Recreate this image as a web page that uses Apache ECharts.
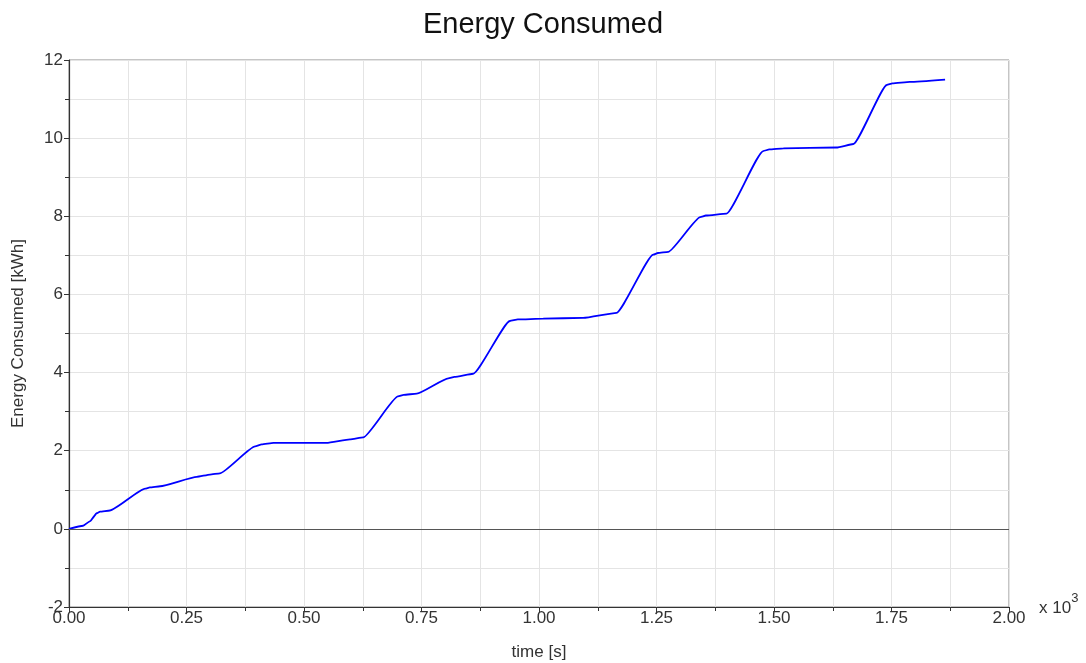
<!DOCTYPE html>
<html><head><meta charset="utf-8">
<script src="https://cdn.jsdelivr.net/npm/echarts@6/dist/echarts.min.js"></script>
<style>html,body{margin:0;padding:0;background:#fff}#c{width:1086px;height:663px}</style>
</head><body><div id="c"></div>
<script>
// time in seconds
const timeS = [0, 30, 45, 59, 66, 87, 162, 172, 194, 272, 300, 321, 396, 410, 435, 548, 598, 626, 700, 712, 740, 807, 820, 860, 938, 955, 1009, 1094, 1165, 1243, 1253, 1275, 1343, 1355, 1399, 1477, 1490, 1520, 1633, 1669, 1740, 1752, 1789, 1864];
const energyKWh = [0, 0.08, 0.2, 0.40, 0.44, 0.47, 1.03, 1.06, 1.09, 1.33, 1.39, 1.42, 2.11, 2.16, 2.20, 2.20, 2.29, 2.34, 3.39, 3.43, 3.46, 3.85, 3.89, 3.97, 5.32, 5.36, 5.38, 5.40, 5.53, 7.02, 7.06, 7.09, 7.98, 8.02, 8.07, 9.67, 9.71, 9.74, 9.76, 9.85, 11.36, 11.40, 11.44, 11.50];
const xTicks = [0, 250, 500, 750, 1000, 1250, 1500, 1750, 2000];
const yTicks = [-2, 0, 2, 4, 6, 8, 10, 12];

const chart = echarts.init(document.getElementById('c'), null, {renderer: 'canvas'});
const F = 'Liberation Sans, Arial, sans-serif';
const gridCol = '#e4e4e4';
chart.setOption({
  animation: false,
  title: {text: 'Energy Consumed', left: 'center', top: 5,
    textStyle: {fontFamily: F, fontSize: 29, fontWeight: 'normal', color: '#111'}},
  grid: {left: 69, top: 60, right: 77, bottom: 56, containLabel: false, outerBoundsMode: 'none',
    show: true, borderColor: '#8a8a8a', borderWidth: 1, backgroundColor: 'transparent'},
  xAxis: {type: 'value', min: xTicks[0], max: xTicks[xTicks.length-1], interval: 250,
    name: 'time [s]', nameLocation: 'middle', nameGap: 37,
    nameTextStyle: {fontFamily: F, fontSize: 17, color: '#333'},
    axisLine: {show: true, onZero: false, lineStyle: {color: '#333', width: 1.2}},
    axisTick: {show: true, inside: false, length: 5, lineStyle: {color: '#333'}},
    minorTick: {show: true, splitNumber: 2, length: 4, lineStyle: {color: '#333'}},
    splitLine: {show: true, lineStyle: {color: gridCol}},
    minorSplitLine: {show: true, lineStyle: {color: gridCol}},
    axisLabel: {fontFamily: F, fontSize: 17, color: '#333', margin: 3,
      formatter: v => (v/1000).toFixed(2)}},
  yAxis: {type: 'value', min: yTicks[0], max: yTicks[yTicks.length-1], interval: 2,
    name: 'Energy Consumed [kWh]', nameLocation: 'middle', nameGap: 42,
    nameTextStyle: {fontFamily: F, fontSize: 17, color: '#333'},
    axisLine: {show: true, onZero: false, lineStyle: {color: '#333', width: 1.2}},
    axisTick: {show: true, inside: false, length: 5, lineStyle: {color: '#333'}},
    minorTick: {show: true, splitNumber: 2, length: 4, lineStyle: {color: '#333'}},
    splitLine: {show: true, lineStyle: {color: gridCol}},
    minorSplitLine: {show: true, lineStyle: {color: gridCol}},
    axisLabel: {fontFamily: F, fontSize: 17, color: '#333', margin: 6}},
  series: [{
    type: 'line', data: timeS.map((t, i) => [t, energyKWh[i]]),
    showSymbol: false, smooth: 0.15, smoothMonotone: 'x',
    lineStyle: {color: '#0000ff', width: 1.8},
    markLine: {silent: true, symbol: 'none', label: {show: false},
      lineStyle: {color: '#555', type: 'solid', width: 1.2}, data: [{yAxis: 0}]}
  }],
  graphic: [{type: 'text', left: 1039, top: 592,
    style: {text: '{a|x 10}{b|3}', rich: {
      a: {fontFamily: F, fontSize: 17, fill: '#333', padding: [8, 0, 0, 0]},
      b: {fontFamily: F, fontSize: 13, fill: '#333', verticalAlign: 'top'}}}}]
});
</script></body></html>
